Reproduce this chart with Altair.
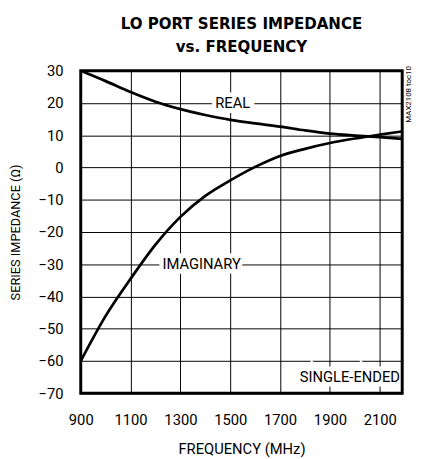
import altair as alt
import pandas as pd

freq = [900, 1000, 1100, 1200, 1300, 1400, 1500, 1600, 1700, 1800, 1900, 2000, 2100, 2190]
real = [30.0, 26.8, 23.4, 20.4, 18.1, 16.3, 14.8, 13.7, 12.7, 11.5, 10.5, 9.9, 9.4, 8.9]
imag = [-60.0, -46.0, -34.5, -23.9, -15.3, -8.8, -4.0, 0.2, 3.6, 5.8, 7.6, 9.0, 10.2, 11.2]

label_text = ["REAL", "IMAGINARY", "SINGLE-ENDED"]
label_x = [1510, 1385, 1980]
label_y = [20, -30, -65]

x_ticks = [900, 1100, 1300, 1500, 1700, 1900, 2100]
y_ticks = [-70, -60, -50, -40, -30, -20, -10, 0, 10, 20, 30]

title_lines = ["LO PORT SERIES IMPEDANCE", "vs. FREQUENCY"]
x_title = "FREQUENCY (MHz)"
y_title = "SERIES IMPEDANCE (Ω)"
side_note = "MAX2108 toc10"

FONT = "DejaVu Sans Condensed, Roboto, sans-serif"
LFONT = "Roboto, sans-serif"
W, H = 327, 328

df = pd.DataFrame({"freq": freq * 2,
                   "val": real + imag,
                   "series": ["Real"] * len(freq) + ["Imag"] * len(freq)})
lab = pd.DataFrame({"freq": label_x, "val": label_y, "t": label_text})

xs = alt.Scale(domain=[900, 2190], nice=False, zero=False)
ys = alt.Scale(domain=[-70, 30], nice=False, zero=False)

x_axis = alt.Axis(values=x_ticks, format="d", labelOverlap=False, labelFlush=False,
                  title=x_title, grid=True, ticks=False, domain=False,
                  labelPadding=20, titlePadding=14, labelFontSize=15, titleFontSize=15,
                  labelFont=LFONT, titleFont=LFONT, titleFontWeight="normal",
                  labelColor="black", titleColor="black",
                  gridColor="black", gridOpacity=1, gridWidth=1)
y_axis = alt.Axis(values=y_ticks, format="d", labelOverlap=False, labelFlush=False,
                  title=y_title, grid=True, ticks=False, domain=False,
                  labelPadding=18, titlePadding=16, labelFontSize=15, titleFontSize=13,
                  labelFont=LFONT, titleFont=LFONT, titleFontWeight="normal",
                  labelColor="black", titleColor="black",
                  gridColor="black", gridOpacity=1, gridWidth=1)

X = alt.X("freq:Q", scale=xs, axis=x_axis)
Y = alt.Y("val:Q", scale=ys, axis=y_axis)

lines = alt.Chart(df).mark_line(color="black", strokeWidth=2.8, interpolate="monotone",
                                clip=True).encode(x=X, y=Y, detail="series:N")

halo = alt.Chart(lab).mark_text(fontSize=15, font=LFONT, stroke="white", strokeWidth=9,
                                 color="white").encode(x=X, y=Y, text="t:N")
txt = alt.Chart(lab).mark_text(fontSize=15, font=LFONT, color="black").encode(
    x=X, y=Y, text="t:N")

frame = alt.Chart(pd.DataFrame({"k": [0]})).mark_rect(
    fill=None, filled=False, stroke="black", strokeWidth=3).encode(
    x=alt.value(0), x2=alt.value(W), y=alt.value(0), y2=alt.value(H))

side = alt.Chart(pd.DataFrame({"t": [side_note]})).mark_text(
    fontSize=8, font=LFONT, angle=270, color="black", align="center", baseline="middle").encode(
    x=alt.value(W + 7), y=alt.value(24), text="t:N")

chart = alt.layer(lines, halo, txt, frame, side).properties(
    width=W, height=H,
    padding={"left": 74, "top": 60, "right": 12, "bottom": 62},
    autosize=alt.AutoSizeParams(type="none"),
    title=alt.TitleParams(text=title_lines, font=FONT, fontSize=17, fontWeight="bold",
                          color="black", anchor="middle", offset=8, lineHeight=24),
).configure_view(stroke=None).configure(background="white")

chart.save("out.html", embed_options={"renderer": "svg", "actions": False})
